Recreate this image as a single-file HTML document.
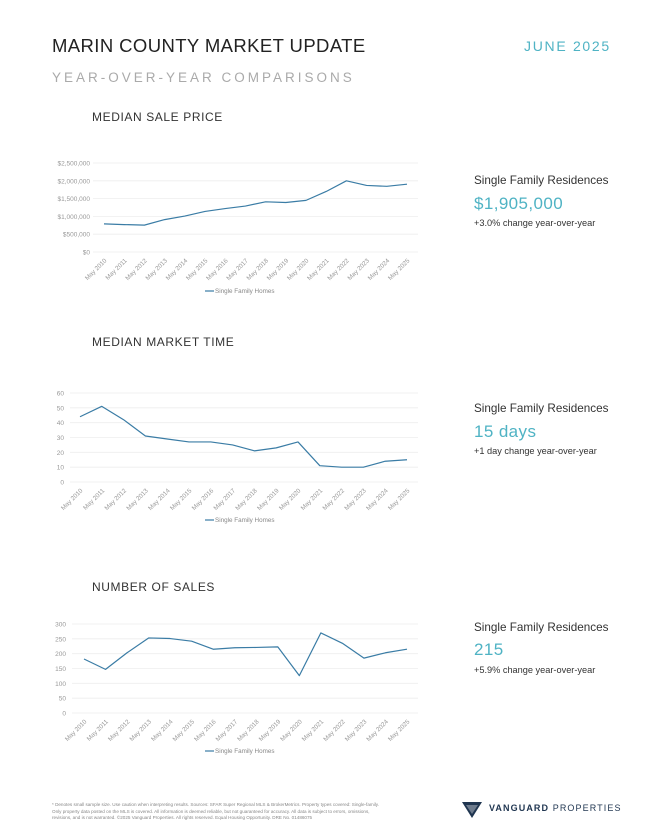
<!DOCTYPE html>
<html><head><meta charset="utf-8">
<style>
body{margin:0;width:645px;height:836px;background:#fff;font-family:"Liberation Sans",sans-serif;position:relative;overflow:hidden}
.a{position:absolute;white-space:nowrap}
.h{font-size:12px;letter-spacing:0.6px;color:#333}
.sf{font-size:11.7px;color:#333}
.val{font-size:17px;color:#4fb3c4;letter-spacing:0.4px}
.chg{font-size:9.2px;color:#333}
svg{position:absolute;left:0;top:0}
</style></head><body>
<div class="a" style="left:52px;top:35px;font-size:18.5px;letter-spacing:0.4px;color:#222">MARIN COUNTY MARKET UPDATE</div>
<div class="a" style="left:524px;top:38px;font-size:14px;letter-spacing:1.7px;color:#4fb3c4">JUNE 2025</div>
<div class="a" style="left:52px;top:70px;font-size:13.5px;letter-spacing:3px;color:#aaa">YEAR-OVER-YEAR COMPARISONS</div>

<div class="a h" style="left:92px;top:110px">MEDIAN SALE PRICE</div>
<div class="a h" style="left:92px;top:335px">MEDIAN MARKET TIME</div>
<div class="a h" style="left:92px;top:580px">NUMBER OF SALES</div>

<div class="a sf" style="left:474px;top:174px">Single Family Residences</div>
<div class="a val" style="left:474px;top:194px">$1,905,000</div>
<div class="a chg" style="left:474px;top:218px">+3.0% change year-over-year</div>
<div class="a sf" style="left:474px;top:402px">Single Family Residences</div>
<div class="a val" style="left:474px;top:422px">15 days</div>
<div class="a chg" style="left:474px;top:446px">+1 day change year-over-year</div>
<div class="a sf" style="left:474px;top:621px">Single Family Residences</div>
<div class="a val" style="left:474px;top:640px">215</div>
<div class="a chg" style="left:474px;top:665px">+5.9% change year-over-year</div>

<div class="a" style="left:52px;top:802px;font-size:4.6px;line-height:6.5px;color:#888;white-space:normal;width:330px">* Denotes small sample size. Use caution when interpreting results. Sources: SFAR Super Regional MLS &amp; BrokerMetrics. Property types covered: Single-family. Only property data posted on the MLS is covered. All information is deemed reliable, but not guaranteed for accuracy. All data is subject to errors, omissions, revisions, and is not warranted. ©2025 Vanguard Properties. All rights reserved. Equal Housing Opportunity. DRE No. 01486075</div>
<svg width="645" height="836" style="pointer-events:none">
<polygon points="462,802 482,802 472,818" fill="#1f3550"/>
<polygon points="466,805 478,805 472,814" fill="#fff" opacity="0.35"/>
</svg>
<div class="a" style="left:489px;top:803px;font-size:9px;letter-spacing:1.1px;color:#1f3550;font-weight:bold">VANGUARD <span style="font-weight:normal">PROPERTIES</span></div>

<svg id="charts" width="645" height="836"></svg>
<script>
const categories=["May 2010","May 2011","May 2012","May 2013","May 2014","May 2015","May 2016","May 2017","May 2018","May 2019","May 2020","May 2021","May 2022","May 2023","May 2024","May 2025"];
const priceValues=[790000,770000,755000,910000,1010000,1140000,1220000,1290000,1410000,1390000,1450000,1700000,2000000,1870000,1845000,1905000];
const priceTicks=[0,500000,1000000,1500000,2000000,2500000];
const priceTickLabels=["$0","$500,000","$1,000,000","$1,500,000","$2,000,000","$2,500,000"];
const timeValues=[44,51,42,31,29,27,27,25,21,23,27,11,10,10,14,15];
const timeTicks=[0,10,20,30,40,50,60];
const salesValues=[182,147,203,253,251,242,215,220,221,223,126,270,235,185,203,215];
const salesTicks=[0,50,100,150,200,250,300];
const NS="http://www.w3.org/2000/svg";
const svg=document.getElementById('charts');
function mk(t,a){const e=document.createElementNS(NS,t);for(const k in a)e.setAttribute(k,a[k]);svg.appendChild(e);return e;}
function chart(id,vals,ticks,labels,g){
  const max=ticks[ticks.length-1];
  const y=v=>g.y0-(v/max)*(g.y0-g.y1);
  const x=i=>g.x0+i*(g.x1-g.x0)/(vals.length-1);
  ticks.forEach((t,i)=>{
    const l=mk('line',{x1:g.gl,x2:418,y1:y(t),y2:y(t),stroke:'#eeeeee','stroke-width':0.8});
    
    
    const tx=mk('text',{x:g.lx,y:y(t)+2.5,'text-anchor':'end','font-size':6.5,fill:'#999','font-family':'Liberation Sans'});
    tx.textContent=labels?labels[i]:String(t);
    
    
  });
  categories.forEach((c,i)=>{
    const tx=mk('text',{x:x(i)+3,y:g.y0+9,'text-anchor':'end','font-size':6.3,fill:'#999','font-family':'Liberation Sans',transform:`rotate(-45 ${x(i)+3} ${g.y0+9})`});
    tx.textContent=c;
    
    
  });
  const p=mk('polyline',{points:vals.map((v,i)=>x(i)+','+y(v)).join(' '),fill:'none',stroke:'#3a7ca5','stroke-width':1.2,'stroke-linejoin':'round'});
  
  
  const ll=mk('line',{x1:205,x2:214,y1:g.leg,y2:g.leg,stroke:'#3a7ca5','stroke-width':1.2});
  
  
  const lt=mk('text',{x:215,y:g.leg+2.2,'font-size':6.3,fill:'#888','font-family':'Liberation Sans'});
  lt.textContent='Single Family Homes';
  
  
}
chart('price',priceValues,priceTicks,priceTickLabels,{x0:104,x1:407,y0:252,y1:163,gl:93,lx:90,leg:291});
chart('time',timeValues,timeTicks,null,{x0:80,x1:407,y0:482,y1:393,gl:70,lx:64,leg:520});
chart('sales',salesValues,salesTicks,null,{x0:84,x1:407,y0:713,y1:624,gl:72,lx:66,leg:751});
</script>
</body></html>
